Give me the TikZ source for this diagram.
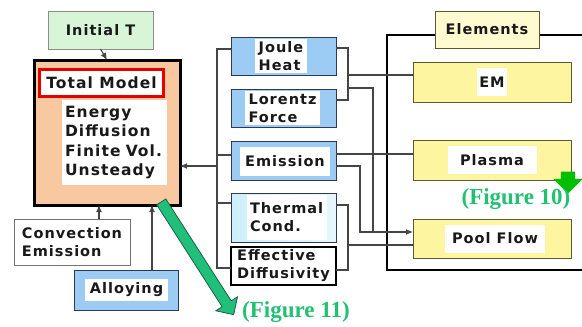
\documentclass[tikz,border=0pt]{standalone}
\usepackage{fontspec}
\setmainfont{DejaVu Sans}[LetterSpace=7]
\newfontfamily\figfont{Liberation Serif}
\usetikzlibrary{shapes.arrows,arrows.meta}
\definecolor{initg}{HTML}{D8F5D8}
\definecolor{peach}{HTML}{F8C8A0}
\definecolor{bluef}{HTML}{9CCBF3}
\definecolor{cyanf}{HTML}{CDEFFA}
\definecolor{navy}{HTML}{2E3A55}
\definecolor{yell}{HTML}{FDF5A0}
\definecolor{yelll}{HTML}{FFFAD0}
\definecolor{olive}{HTML}{5A5A30}
\definecolor{grn}{HTML}{20C07A}
\definecolor{grnd}{HTML}{1A6048}
\definecolor{figg}{HTML}{22C070}
\definecolor{conn}{HTML}{454545}
\begin{document}
\begin{tikzpicture}[x=1pt,y=-1pt,
  font={\bfseries\fontsize{14.5}{18}\selectfont},
  every node/.style={inner sep=0pt, outer sep=0pt, text=black!90},
  bluebox/.style={draw=navy, line width=1pt, fill=bluef, rectangle, minimum width=105pt},
  whitein/.style={fill=white, rectangle, align=left},
  yellbox/.style={draw=olive, line width=1pt, fill=yell, rectangle, minimum width=158pt, minimum height=40pt},
  wire/.style={draw=conn, line width=1.1pt},
  tip/.style={-{Latex[length=7pt,width=6pt]}},
  figlab/.style={font={\figfont\bfseries\fontsize{23}{24}\selectfont}, text=figg}
]
\useasboundingbox (0,0) rectangle (582,327);

% Elements frame
\draw[line width=2.5pt] (590,35) -- (387,35) -- (387,270) -- (590,270);
\node[draw=olive, line width=1pt, fill=yelll, minimum width=104pt, minimum height=37pt] (elem) at (487,29.5) {Elements};

% Elements boxes
\node[yellbox] (em) at (492,82) {};
\node[whitein, minimum width=30pt, minimum height=28pt] (emT) at (492,82) {EM};
\node[yellbox] (plasma) at (492,160) {};
\node[whitein, minimum width=89pt, minimum height=28pt] (plasmaT) at (492,160) {Plasma};
\node[yellbox, minimum height=39pt] (pool) at (492,238.5) {};
\node[whitein, minimum width=100pt, minimum height=28pt] (poolT) at (495,238.5) {Pool Flow};

% Initial T
\node[draw=black!45, line width=1pt, fill=initg, minimum width=105pt, minimum height=38pt] (init) at (100.5,30) {Initial T};

% Total model
\node[draw=black, line width=3pt, fill=peach, minimum width=146pt, minimum height=145pt] (total) at (107,132.5) {};
\node[draw=red!90!black, line width=3pt, fill=white, minimum width=124pt, minimum height=27pt, font={\bfseries\fontsize{15.5}{18}\selectfont}] (title) at (101.5,82.5) {Total Model};
\node[whitein, minimum width=105pt, minimum height=85pt, text width=99pt, inner xsep=3pt, font={\bfseries\fontsize{15.5}{19.5}\selectfont}] (desc) at (114.5,142.5) {Energy\\Diffusion\\Finite Vol.\\Unsteady};

% Middle column
\node[bluebox, minimum height=38pt] (joule) at (283.5,56) {};
\node[whitein, minimum width=52pt, minimum height=34pt] (jouleT) at (281,56) {Joule\\Heat};
\node[bluebox, minimum height=38pt] (lorentz) at (283.5,108) {};
\node[whitein, minimum width=75pt, minimum height=34pt] (lorentzT) at (282.5,108) {Lorentz\\Force};
\node[bluebox, minimum height=39pt] (emis) at (283.5,160.5) {};
\node[whitein, minimum width=90pt, minimum height=29pt] (emisT) at (285,161.5) {Emission};
\node[draw=navy, line width=1pt, left color=cyanf, right color=cyanf!50!white, minimum width=105pt, minimum height=49pt] (therm) at (283.5,217.5) {};
\node[whitein, minimum width=80pt, minimum height=45pt, text width=74pt, inner xsep=3pt] (thermT) at (287,217.5) {Thermal\\Cond.};
\node[draw=black, line width=1.2pt, fill=white, minimum width=105pt, minimum height=38pt, align=left] (eff) at (283.5,266) {Effective\\Diffusivity};

% Convection / Alloying
\node[draw=black!55, line width=1pt, fill=white, minimum width=116pt, minimum height=46pt, align=left] (conv) at (72,242) {Convection\\Emission};
\node[bluebox, minimum width=104pt, minimum height=40pt] (alloy) at (126,290) {};
\node[whitein, minimum width=83pt, minimum height=22pt] (alloyT) at (126.5,290) {Alloying};

% Left bus
\coordinate (busTop) at (217,49);
\coordinate (busBot) at (217,268);
\coordinate (bEm) at (217,155);
\coordinate (bTh) at (217,203);
\coordinate (bOut) at (217,166);
\draw[wire] (joule.west |- busTop) -- (busTop) -- (busBot) -- (eff.west |- busBot);
\draw[wire] (bEm) -- (emis.west |- bEm);
\draw[wire] (bTh) -- (therm.west |- bTh);
\draw[wire, tip] (bOut) -- (total.east |- bOut);

% Right connectors
\coordinate (r1a) at (348,48);
\coordinate (r1b) at (348,100);
\coordinate (r1c) at (348,75);
\coordinate (r1d) at (348,88);
\coordinate (r1e) at (373,88);
\coordinate (r1f) at (373,232);
\draw[wire] (joule.east |- r1a) -- (r1a) -- (r1b) -- (lorentz.east |- r1b);
\draw[wire] (r1c) -- (em.west |- r1c);
\draw[wire] (r1d) -- (r1e) -- (r1f);
\coordinate (e1) at (336,154);
\coordinate (e2) at (336,166);
\coordinate (e3) at (360,166);
\coordinate (e4) at (360,232);
\draw[wire] (emis.east |- e1) -- (plasma.west |- e1);
\draw[wire, tip] (emis.east |- e2) -- (e3) -- (e4) -- (pool.west |- e4);
\coordinate (r2a) at (348,205);
\coordinate (r2b) at (348,270);
\coordinate (r2c) at (348,245);
\draw[wire] (therm.east |- r2a) -- (r2a) -- (r2b) -- (eff.east |- r2b);
\draw[wire] (r2c) -- (pool.west |- r2c);

% Vertical arrows
\draw[wire, tip] (init.south) -- (total.north);
\coordinate (ca) at (99,219);
\coordinate (aa) at (152,270);
\draw[wire, tip] (ca) -- (ca |- total.south);
\draw[wire, tip] (aa) -- (aa |- total.south);

% Green arrows
\node[single arrow, draw=grnd, line width=0.8pt, fill=grn, inner xsep=0pt, inner ysep=5pt, minimum height=134pt, minimum width=25pt, single arrow head extend=7.5pt, single arrow head indent=0pt, rotate=-57.3] (big) at (196,256) {};
\node[single arrow, draw=none, fill=green!75!black, inner xsep=0pt, inner ysep=7pt, minimum height=22pt, minimum width=29pt, single arrow head extend=7.5pt, rotate=-90] (small) at (568,179) {};

% Figure labels
\node[figlab] (fig10) at (516,199) {(Figure 10)};
\node[figlab] (fig11) at (296,312) {(Figure 11)};
\end{tikzpicture}
\end{document}
